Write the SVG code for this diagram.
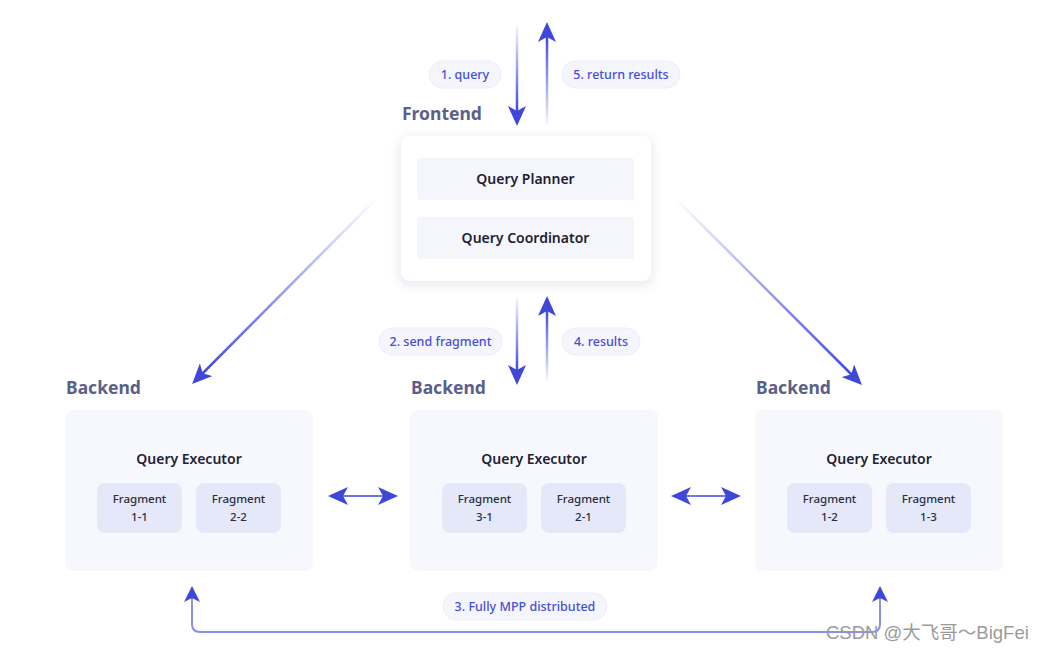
<svg xmlns="http://www.w3.org/2000/svg" width="1045" height="650" viewBox="0 0 1045 650">
<style>
.title{font-family:"Noto Sans",sans-serif;font-weight:700;font-size:17.5px;fill:#5b5f8c}
.box{font-family:"Noto Sans",sans-serif;font-weight:600;font-size:14px;fill:#1e2233;text-anchor:middle}
.frag{font-family:"Noto Sans",sans-serif;font-weight:500;font-size:11.5px;fill:#2a2e40;text-anchor:middle}
.pill rect{fill:#f5f6fd;stroke:#eceefa;stroke-width:1}
.pill text{font-family:"Noto Sans",sans-serif;font-weight:500;font-size:12.5px;fill:#464ed6;text-anchor:middle}
.be{fill:#f7f8fd}
.fr{fill:#e5e8f8}
.inner{fill:#f5f6fc}
.arr{fill:none;stroke-width:2.5}
.wm{font-family:"Liberation Sans","Noto Sans CJK SC",sans-serif;font-size:18.5px;fill:#9a9a9a}
</style>
<defs>
<marker id="ah" markerUnits="userSpaceOnUse" viewBox="0 0 20 18" refX="6" refY="9" markerWidth="20" markerHeight="18" orient="auto-start-reverse">
<path d="M0,0 L20,9 L0,18 L5,9 z" fill="#3f47d9"/>
</marker>
<marker id="ahs" markerUnits="userSpaceOnUse" viewBox="0 0 16 16" refX="5" refY="8" markerWidth="16" markerHeight="16" orient="auto-start-reverse">
<path d="M0,0 L16,8 L0,16 L4,8 z" fill="#3f47d9"/>
</marker>
<linearGradient id="g1" gradientUnits="userSpaceOnUse" x1="0" y1="25" x2="0" y2="112"><stop offset="0" stop-color="#3f47d9" stop-opacity="0.05"/><stop offset="1" stop-color="#3f47d9"/></linearGradient>
<linearGradient id="g5" gradientUnits="userSpaceOnUse" x1="0" y1="125" x2="0" y2="36"><stop offset="0" stop-color="#3f47d9" stop-opacity="0.05"/><stop offset="1" stop-color="#3f47d9"/></linearGradient>
<linearGradient id="g2" gradientUnits="userSpaceOnUse" x1="0" y1="298" x2="0" y2="371"><stop offset="0" stop-color="#3f47d9" stop-opacity="0.05"/><stop offset="1" stop-color="#3f47d9"/></linearGradient>
<linearGradient id="g4" gradientUnits="userSpaceOnUse" x1="0" y1="381" x2="0" y2="310"><stop offset="0" stop-color="#3f47d9" stop-opacity="0.05"/><stop offset="1" stop-color="#3f47d9"/></linearGradient>
<linearGradient id="gl" gradientUnits="userSpaceOnUse" x1="376" y1="199" x2="202" y2="374"><stop offset="0" stop-color="#3f47d9" stop-opacity="0"/><stop offset="1" stop-color="#3f47d9"/></linearGradient>
<linearGradient id="gr" gradientUnits="userSpaceOnUse" x1="676" y1="199" x2="852" y2="375"><stop offset="0" stop-color="#3f47d9" stop-opacity="0"/><stop offset="1" stop-color="#3f47d9"/></linearGradient>
<filter id="sh" x="-20%" y="-20%" width="140%" height="150%"><feDropShadow dx="0" dy="3" stdDeviation="6" flood-color="#2a2f6a" flood-opacity="0.12"/></filter>
</defs>
<rect width="1045" height="650" fill="#ffffff"/>

<g id="frontend">
<text class="title" x="402" y="120">Frontend</text>
<rect x="401" y="136" width="250" height="145" rx="9" fill="#ffffff" filter="url(#sh)"/>
<rect class="inner" x="417" y="158" width="217" height="42" rx="3"/>
<text class="box" x="525.5" y="184">Query Planner</text>
<rect class="inner" x="417" y="217" width="217" height="42" rx="3"/>
<text class="box" x="525.5" y="243">Query Coordinator</text>
</g>

<g id="backend1">
<text class="title" x="66" y="394">Backend</text>
<rect class="be" x="65" y="410" width="248" height="161" rx="8"/>
<text class="box" x="189" y="464">Query Executor</text>
<rect class="fr" x="97" y="483" width="85" height="50" rx="8"/>
<text class="frag" x="139.5" y="503">Fragment</text><text class="frag" x="139.5" y="521">1-1</text>
<rect class="fr" x="196" y="483" width="85" height="50" rx="8"/>
<text class="frag" x="238.5" y="503">Fragment</text><text class="frag" x="238.5" y="521">2-2</text>
</g>

<g id="backend2">
<text class="title" x="411" y="394">Backend</text>
<rect class="be" x="410" y="410" width="248" height="161" rx="8"/>
<text class="box" x="534" y="464">Query Executor</text>
<rect class="fr" x="442" y="483" width="85" height="50" rx="8"/>
<text class="frag" x="484.5" y="503">Fragment</text><text class="frag" x="484.5" y="521">3-1</text>
<rect class="fr" x="541" y="483" width="85" height="50" rx="8"/>
<text class="frag" x="583.5" y="503">Fragment</text><text class="frag" x="583.5" y="521">2-1</text>
</g>

<g id="backend3">
<text class="title" x="756" y="394">Backend</text>
<rect class="be" x="755" y="410" width="248" height="161" rx="8"/>
<text class="box" x="879" y="464">Query Executor</text>
<rect class="fr" x="787" y="483" width="85" height="50" rx="8"/>
<text class="frag" x="829.5" y="503">Fragment</text><text class="frag" x="829.5" y="521">1-2</text>
<rect class="fr" x="886" y="483" width="85" height="50" rx="8"/>
<text class="frag" x="928.5" y="503">Fragment</text><text class="frag" x="928.5" y="521">1-3</text>
</g>

<g id="connectors">
<line class="arr" x1="517" y1="25" x2="517" y2="112" stroke="url(#g1)" marker-end="url(#ah)"/>
<line class="arr" x1="547" y1="125" x2="547" y2="36" stroke="url(#g5)" marker-end="url(#ah)"/>
<line class="arr" x1="517" y1="298" x2="517" y2="371" stroke="url(#g2)" marker-end="url(#ah)"/>
<line class="arr" x1="547" y1="381" x2="547" y2="310" stroke="url(#g4)" marker-end="url(#ah)"/>
<line class="arr" x1="376" y1="199" x2="202" y2="374" stroke="url(#gl)" marker-end="url(#ah)"/>
<line class="arr" x1="676" y1="199" x2="852" y2="375" stroke="url(#gr)" marker-end="url(#ah)"/>
<line x1="342" y1="496" x2="384" y2="496" stroke="#6f75e2" stroke-width="2" marker-start="url(#ah)" marker-end="url(#ah)"/>
<line x1="685" y1="496" x2="727" y2="496" stroke="#6f75e2" stroke-width="2" marker-start="url(#ah)" marker-end="url(#ah)"/>
<path d="M192,597 V624 Q192,632 200,632 H872 Q880,632 880,624 V597" fill="none" stroke="#8a8fea" stroke-width="2" marker-start="url(#ahs)" marker-end="url(#ahs)"/>
</g>

<g id="labels">
<g class="pill"><rect x="429" y="61" width="72" height="27" rx="13.5"/><text x="465" y="79">1. query</text></g>
<g class="pill"><rect x="562" y="61" width="118" height="27" rx="13.5"/><text x="621" y="79">5. return results</text></g>
<g class="pill"><rect x="379" y="328" width="123" height="27" rx="13.5"/><text x="440.5" y="346">2. send fragment</text></g>
<g class="pill"><rect x="562" y="328" width="78" height="27" rx="13.5"/><text x="601" y="346">4. results</text></g>
<g class="pill"><rect x="443" y="593" width="164" height="27" rx="13.5"/><text x="525" y="611">3. Fully MPP distributed</text></g>
</g>

<text class="wm" x="826" y="639">CSDN @大飞哥～BigFei</text>
</svg>
